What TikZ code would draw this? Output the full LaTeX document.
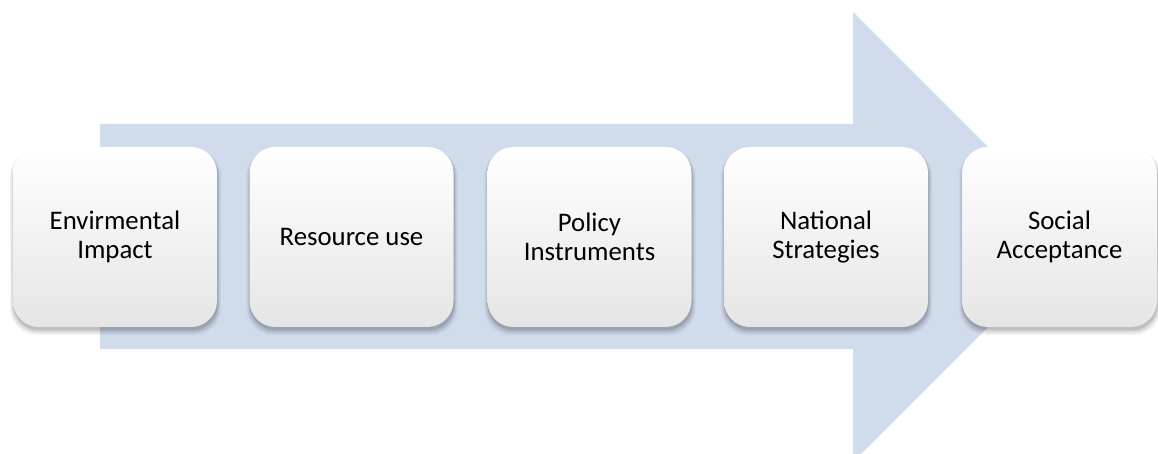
\documentclass[tikz,border=0pt]{standalone}
\usepackage{fontspec}
\setmainfont{Carlito}
\usetikzlibrary{shadows}
\definecolor{arrowblue}{RGB}{208,219,236}
\definecolor{boxgray}{RGB}{229,229,229}
\begin{document}
\begin{tikzpicture}[x=1pt,y=1pt,
  softshadow/.style={
    general shadow={fill=black, opacity=0.035, shadow scale=1.035, shadow xshift=0.5pt, shadow yshift=-5pt},
    general shadow={fill=black, opacity=0.05, shadow scale=1.025, shadow xshift=0.5pt, shadow yshift=-4.5pt},
    general shadow={fill=black, opacity=0.07, shadow scale=1.015, shadow xshift=0.5pt, shadow yshift=-4pt},
    general shadow={fill=black, opacity=0.12, shadow scale=1.005, shadow xshift=0.5pt, shadow yshift=-3pt}},
  stagebox/.style={rounded corners=26pt, minimum height=180pt, softshadow,
    top color=white, middle color=white, bottom color=boxgray,
    align=center, inner sep=0pt,
    font=\fontsize{26.8}{29.5}\selectfont}]
  \useasboundingbox (0,0) rectangle (1158,454);
  % big background arrow
  \fill[arrowblue] (100,105) -- (853,105) -- (853,-8) -- (1078,217)
    -- (853,442) -- (853,330) -- (100,330) -- cycle;
  % stages
  \node[stagebox, minimum width=204pt] (s1) at (115,217) {Envirmental\\Impact};
  \node[stagebox, minimum width=204pt] (s2) at (351.5,217) {Resource use};
  \node[stagebox, minimum width=204pt] (s3) at (589.5,217) {Policy\\Instruments};
  \node[stagebox, minimum width=204pt] (s4) at (826,217) {National\\Strategies};
  \node[stagebox, minimum width=195pt] (s5) at (1059.5,217) {Social\\Acceptance};
\end{tikzpicture}
\end{document}
